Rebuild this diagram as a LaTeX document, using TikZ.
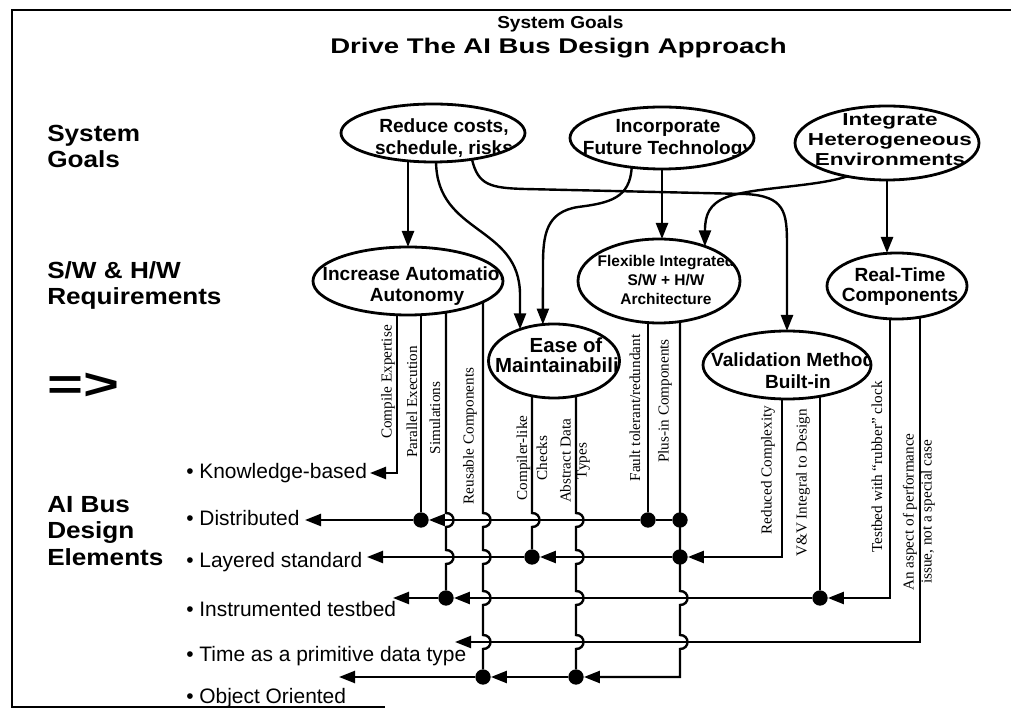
\documentclass[tikz,border=0pt]{standalone}
\usepackage{fontspec}
\usepackage{graphicx}
\setmainfont{Liberation Sans}
\newfontfamily\serifface{Liberation Serif}
\newfontfamily\wideface{Liberation Sans}[FakeStretch=1.3]
\newfontfamily\midface{Liberation Sans}[FakeStretch=1.1]
\newfontfamily\semiwide{Liberation Sans}[FakeStretch=1.12]
\usetikzlibrary{shapes.geometric,arrows.meta,calc}
\newdimen\pxu \pxu=0.75pt
\pgfdeclarelayer{bg}
\pgfsetlayers{bg,main}
\tikzset{
 ln/.style={line width=1.8pt},
 arr/.style={ln, -{Triangle[length=12pt,width=9pt]}},
 goal/.style={ellipse, draw, line width=2.1pt, fill=white, inner sep=0pt, outer sep=0pt},
 intext/.style={draw=none, fill=none, rectangle, inner sep=0pt, align=center},
 dot/.style={circle, fill, inner sep=0pt, minimum size=11.5pt},
 vlab/.style={rotate=90, inner sep=0pt, align=center, font=\serifface\fontsize{11.4}{13.5}\selectfont},
 bullitem/.style={anchor=base west, inner sep=0pt, font=\fontsize{15.7}{18}\selectfont},
 sidelab/.style={anchor=base west, inner sep=0pt, font=\semiwide\bfseries\fontsize{17.5}{20}\selectfont},
 hopat/.style 2 args={insert path={-- (#1,#2-7) .. controls (#1+10,#2-7) and (#1+10,#2+7) .. (#1,#2+7)}},
}
\begin{document}
\begin{tikzpicture}[x=0.75pt,y=-0.75pt]
\useasboundingbox (0,0) rectangle (1011,712);
% frame
\draw[line width=1.5pt] (1011,10) -- (12,10) -- (12,707) -- (385,707);
% titles
\node[anchor=base west, inner sep=0pt, font=\midface\bfseries\fontsize{13}{15}\selectfont] (t1) at (497,29) {System Goals};
\node[anchor=base west, inner sep=0pt, font=\wideface\bfseries\fontsize{15.9}{18}\selectfont] (t2) at (330,54) {Drive The AI Bus Design Approach};
% left labels
\node[sidelab] (sg1) at (47,142) {System};
\node[sidelab] (sg2) at (47,168) {Goals};
\node[sidelab] (sw1) at (47,279) {S/W \& H/W};
\node[sidelab] (sw2) at (47,305) {Requirements};
\node[inner sep=0pt, font=\bfseries\fontsize{33}{33}\selectfont] (impl) at (83,386) {\scalebox{1.4}[1]{=>}};
\node[sidelab] (ab1) at (47,513) {AI Bus};
\node[sidelab] (ab2) at (47,539) {Design};
\node[sidelab] (ab3) at (47,566) {Elements};
% goal ellipses
\node[goal, minimum width=184\pxu, minimum height=58\pxu, path picture={\node[intext, font=\bfseries\fontsize{14.3}{16.5}\selectfont] at ([xshift=11\pxu,yshift=-5\pxu]path picture bounding box.center) {Reduce costs,\\schedule, risks};}] (rc) at (433,133) {};
\node[goal, minimum width=184\pxu, minimum height=62\pxu, path picture={\node[intext, font=\bfseries\fontsize{14.3}{17}\selectfont] at ([xshift=6\pxu,yshift=-1\pxu]path picture bounding box.center) {Incorporate\\Future Technology};}] (inc) at (662,138) {};
\node[goal, minimum width=184\pxu, minimum height=74\pxu, path picture={\node[intext, font=\wideface\bfseries\fontsize{13}{15}\selectfont] at ([xshift=3\pxu,yshift=3\pxu]path picture bounding box.center) {Integrate\\Heterogeneous\\Environments};}] (ih) at (887,143) {};
\node[goal, minimum width=190\pxu, minimum height=68\pxu, path picture={\node[intext, font=\bfseries\fontsize{14.3}{15.75}\selectfont] at ([xshift=9\pxu,yshift=-5\pxu]path picture bounding box.center) {Increase Automation\\Autonomy};}] (ia) at (408,281) {};
\node[goal, minimum width=131\pxu, minimum height=74\pxu, path picture={\node[intext, font=\bfseries\fontsize{15.3}{15}\selectfont] at ([xshift=12\pxu,yshift=4\pxu]path picture bounding box.center) {Ease of\\Maintainability};}] (em) at (554,361) {};
\node[goal, minimum width=162\pxu, minimum height=84\pxu, path picture={\node[intext, font=\bfseries\fontsize{11.6}{13.9}\selectfont] at ([xshift=7\pxu,yshift=1\pxu]path picture bounding box.center) {Flexible Integrated\\S/W + H/W\\Architecture};}] (fl) at (659,281) {};
\node[goal, minimum width=168\pxu, minimum height=68\pxu, path picture={\node[intext, font=\bfseries\fontsize{14.3}{16.5}\selectfont] at ([xshift=11\pxu,yshift=-6\pxu]path picture bounding box.center) {Validation Methods\\Built-in};}] (vm) at (787,365) {};
\node[goal, minimum width=140\pxu, minimum height=66\pxu, path picture={\node[intext, font=\bfseries\fontsize{14.3}{15}\selectfont] at ([xshift=3\pxu,yshift=-1\pxu]path picture bounding box.center) {Real-Time\\Components};}] (rt) at (897,286) {};
% top connectors
\draw[arr] (rc.south -| ia.north) -- (ia.north);
\draw[arr] (rc.-84) .. controls (437,235) and (520,225) .. (520,295) -- (em.137);
\draw[arr] (rc.-34) .. controls (478,185) and (490,188) .. (525,189) -- (745,194) .. controls (785,196) and (787,212) .. (787,245) -- (vm.north);
\draw[arr] (inc.-136) .. controls (630,198) and (610,203) .. (578,207) .. controls (546,212) and (543,235) .. (543,265) -- (em.107);
\draw[arr] (inc.south) -- (inc.south |- fl.north);
\draw[arr] (ih.-140) .. controls (815,187) and (755,187) .. (727,197) .. controls (709,204) and (705,215) .. (fl.37);
\draw[arr] (ih.south) -- (ih.south |- rt.north);
% vertical labels
\node[vlab] (l1) at (388,382) {Compile Expertise};
\node[vlab] (l2) at (412,402) {Parallel Execution};
\node[vlab] (l3) at (435,418) {Simulations};
\node[vlab] (l4) at (470,436) {Reusable Components};
\node[vlab, font=\serifface\fontsize{11.4}{15}\selectfont] (l5) at (532,458) {Compiler-like\\Checks};
\node[vlab, font=\serifface\fontsize{11.4}{12}\selectfont] (l6) at (575,461) {Abstract Data\\Types};
\node[vlab] (l7) at (635,408) {Fault tolerant/redundant};
\node[vlab] (l8) at (665,401) {Plus-in Components};
\node[vlab] (l9) at (768,470) {Reduced Complexity};
\node[vlab] (l10) at (803,483) {V\&V Integral to Design};
\node[vlab] (l11) at (877,467) {Testbed with “rubber” clock};
\node[vlab] (l12) at (919,512) {An aspect of performance\\issue, not a special case};
% bullet items
\node[bullitem] (kb) at (186,479) {• Knowledge-based};
\node[bullitem] (di) at (186,526) {• Distributed};
\node[bullitem] (ls) at (186,568) {• Layered standard};
\node[bullitem] (it) at (186,617) {• Instrumented testbed};
\node[bullitem] (tp) at (186,662) {• Time as a primitive data type};
\node[bullitem] (oo) at (186,704) {• Object Oriented};
% junction dots and points
\node[dot] (dD2) at (421,520) {};
\node[dot] (dD7) at (648,520) {};
\node[dot] (dD8) at (680,520) {};
\node[dot] (dL5) at (532,557) {};
\node[dot] (dL8) at (680,557) {};
\node[dot] (dI3) at (446,598) {};
\node[dot] (dI10) at (820,598) {};
\node[dot] (dO4) at (483,677) {};
\node[dot] (dO6) at (576,677) {};
\coordinate (cK) at (397,473);
\coordinate (tK) at (370,473);
\coordinate (tD) at (305,520);
\coordinate (tL) at (367,557);
\coordinate (tI) at (393,598);
\coordinate (tT) at (455,642);
\coordinate (tO) at (339,677);
\coordinate (cL9) at (782,557);
\coordinate (cI11) at (890,598);
\coordinate (cT12) at (920,642);
\coordinate (cO8) at (680,677);
\begin{pgfonlayer}{bg}
\draw[arr] (cK |- ia.center) -- (cK) -- (tK);
\draw[ln] (dD2 |- ia.center) -- (dD2);
\draw[ln] (dI3 |- ia.center) [hopat={446}{520}] [hopat={446}{557}] -- (dI3);
\draw[ln] (dO4 |- ia.center) [hopat={483}{520}] [hopat={483}{557}] [hopat={483}{598}] [hopat={483}{642}] -- (dO4);
\draw[ln] (dL5 |- em.center) [hopat={532}{520}] -- (dL5);
\draw[ln] (dO6 |- em.center) [hopat={576}{520}] [hopat={576}{557}] [hopat={576}{598}] [hopat={576}{642}] -- (dO6);
\draw[ln] (dD7 |- fl.center) -- (dD7);
\draw[arr] (dD8 |- fl.center) -- (dL8.center) [hopat={680}{598}] [hopat={680}{642}] -- (cO8) -- (dO6);
\draw[arr] (dO6) -- (dO4);
\draw[arr] (dO4) -- (tO);
\draw[arr] (cL9 |- vm.center) -- (cL9) -- (dL8);
\draw[arr] (dL8) -- (dL5);
\draw[arr] (dL5) -- (tL);
\draw[ln] (dI10 |- vm.center) -- (dI10);
\draw[arr] (cI11 |- rt.center) -- (cI11) -- (dI10);
\draw[arr] (dI10) -- (dI3);
\draw[arr] (dI3) -- (tI);
\draw[arr] (cT12 |- rt.center) -- (cT12) -- (tT);
\draw[ln] (dD8) -- (dD7);
\draw[arr] (dD7) -- (dD2);
\draw[arr] (dD2) -- (tD);
\end{pgfonlayer}
\end{tikzpicture}
\end{document}
